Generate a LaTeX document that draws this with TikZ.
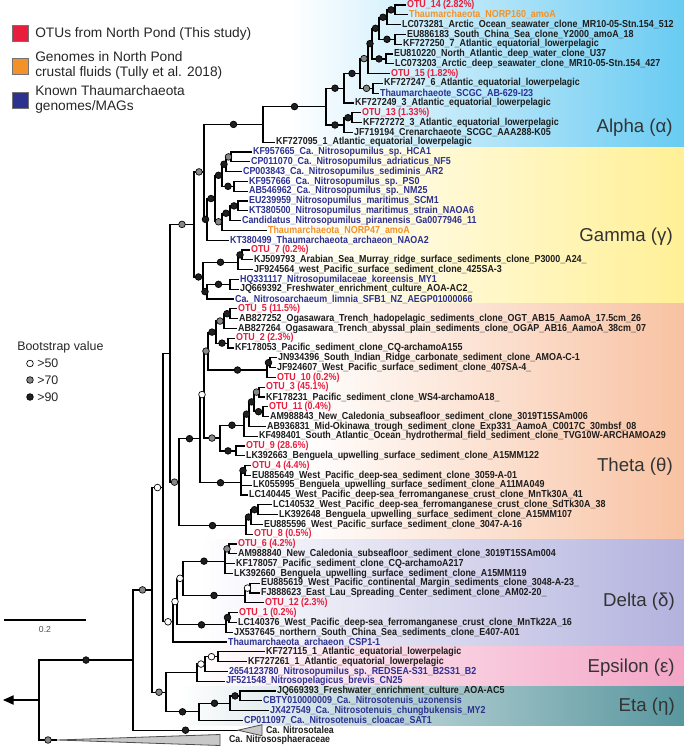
\documentclass[tikz,border=0pt]{standalone}
\usepackage{fontspec}
\setmainfont{Liberation Sans}
\newfontfamily\leaffont{Liberation Sans}[FakeStretch=0.88]
\usetikzlibrary{calc,arrows.meta}

\definecolor{otured}{RGB}{232,30,60}
\definecolor{norporange}{RGB}{243,146,40}
\definecolor{knownblue}{RGB}{45,50,145}
\definecolor{leafblack}{RGB}{30,30,30}
\definecolor{alphabg}{RGB}{105,203,242}
\definecolor{gammabg}{RGB}{255,240,150}
\definecolor{thetabg}{RGB}{248,194,162}
\definecolor{deltabg}{RGB}{178,178,222}
\definecolor{epsbg}{RGB}{243,165,197}
\definecolor{etabg}{RGB}{88,150,158}
\definecolor{dotgray}{RGB}{135,135,135}
\definecolor{clpsgray}{RGB}{200,200,200}

\tikzset{
  br/.style={line width=0.9pt},
  lf/.style={anchor=west, inner sep=0.6pt, text=leafblack, font=\leaffont\bfseries\fontsize{7.6}{8}\selectfont},
  lfotu/.style={lf, text=otured},
  lfnorp/.style={lf, text=norporange},
  lfknown/.style={lf, text=knownblue},
  lfbig/.style={lf, font=\leaffont\bfseries\fontsize{7.5}{8}\selectfont},
  bs/.style={circle, draw=black, line width=0.5pt, inner sep=0pt, minimum size=5pt},
  bshi/.style={bs, fill=black!88},
  bsmid/.style={bs, fill=dotgray},
  bslo/.style={bs, fill=white},
  clade/.style={anchor=east, inner sep=0pt, text=black!80, font=\fontsize{14}{16}\selectfont},
  legtxt/.style={anchor=west, align=left, inner sep=0pt, text=black!85, font=\fontsize{10.3}{10.6}\selectfont},
  sqr/.style={draw=black!55, line width=0.4pt, minimum size=12pt, inner sep=0pt},
  clps/.style={draw=black!70, line width=0.6pt, fill=clpsgray}
}

\begin{document}
\begin{tikzpicture}[x=0.75pt,y=0.75pt,yscale=-1,xscale=1]
\useasboundingbox (0,0) rectangle (684,746);

% clade backgrounds
\shade[left color=white, right color=alphabg] (290,0) rectangle (684,147.1);
\shade[left color=white, right color=gammabg] (280,147.1) rectangle (684,303.9);
\shade[left color=white, right color=thetabg] (300,303.9) rectangle (684,539.1);
\shade[left color=white, right color=deltabg] (200,539.1) rectangle (684,646.9);
\shade[left color=white, right color=epsbg] (190,646.9) rectangle (684,686.1);
\shade[left color=white, middle color=etabg!70, right color=etabg] (180,686.1) rectangle (684,725.5);

% legend
\node[sqr, fill=otured] (sq1) at (20,33.5) {};
\node[sqr, fill=norporange] (sq2) at (20,66.5) {};
\node[sqr, fill=knownblue] (sq3) at (20,100) {};
\node[legtxt] (lg1) at (35,34) {OTUs from North Pond (This study)};
\node[legtxt] (lg2) at (35,65.5) {Genomes in North Pond\\crustal fluids (Tully et al. 2018)};
\node[legtxt] (lg3) at (35,99.5) {Known Thaumarchaeota\\genomes/MAGs};

% leaves
\node[lfotu] (l1) at (406,5.0) {OTU\_14 (2.82\%)};
\node[lfnorp] (l2) at (408,14.8) {Thaumarchaeota\_NORP160\_amoA};
\node[lf] (l3) at (401,24.6) {LC073281\_Arctic\_Ocean\_seawater\_clone\_MR10-05-Stn.154\_512};
\node[lf] (l4) at (406,34.4) {EU886183\_South\_China\_Sea\_clone\_Y2000\_amoA\_18};
\node[lf] (l5) at (402,44.2) {KF727250\_7\_Atlantic\_equatorial\_lowerpelagic};
\node[lf] (l6) at (393,54.0) {EU810220\_North\_Atlantic\_deep\_water\_clone\_U37};
\node[lf] (l7) at (394,63.8) {LC073203\_Arctic\_deep\_seawater\_clone\_MR10-05-Stn.154\_427};
\node[lfotu] (l8) at (390,73.6) {OTU\_15 (1.82\%)};
\node[lf] (l9) at (383,83.4) {KF727247\_6\_Atlantic\_equatorial\_lowerpelagic};
\node[lfknown] (l10) at (379,93.2) {Thaumarchaeote\_SCGC\_AB-629-I23};
\node[lf] (l11) at (354,103.0) {KF727249\_3\_Atlantic\_equatorial\_lowerpelagic};
\node[lfotu] (l12) at (361,112.8) {OTU\_13 (1.33\%)};
\node[lf] (l13) at (362,122.6) {KF727272\_3\_Atlantic\_equatorial\_lowerpelagic};
\node[lf] (l14) at (353,132.4) {JF719194\_Crenarchaeote\_SCGC\_AAA288-K05};
\node[lf] (l15) at (275,142.2) {KF727095\_1\_Atlantic\_equatorial\_lowerpelagic};
\node[lfknown] (l16) at (252,152.0) {KF957665\_Ca.\_Nitrosopumilus\_sp.\_HCA1};
\node[lfknown] (l17) at (250,161.8) {CP011070\_Ca.\_Nitrosopumilus\_adriaticus\_NF5};
\node[lfknown] (l18) at (242,171.6) {CP003843\_Ca.\_Nitrosopumilus\_sediminis\_AR2};
\node[lfknown] (l19) at (248,181.4) {KF957666\_Ca.\_Nitrosopumilus\_sp.\_PS0};
\node[lfknown] (l20) at (248,191.2) {AB546962\_Ca.\_Nitrosopumilus\_sp.\_NM25};
\node[lfknown] (l21) at (248,201.0) {EU239959\_Nitrosopumilus\_maritimus\_SCM1};
\node[lfknown] (l22) at (248,210.8) {KT380500\_Nitrosopumilus\_maritimus\_strain\_NAOA6};
\node[lfknown] (l23) at (241,220.6) {Candidatus\_Nitrosopumilus\_piranensis\_Ga0077946\_11};
\node[lfnorp] (l24) at (267,230.4) {Thaumarchaeota\_NORP47\_amoA};
\node[lfknown] (l25) at (229,240.2) {KT380499\_Thaumarchaeota\_archaeon\_NAOA2};
\node[lfotu] (l26) at (250,250.0) {OTU\_7 (0.2\%)};
\node[lf] (l27) at (253,259.8) {KJ509793\_Arabian\_Sea\_Murray\_ridge\_surface\_sediments\_clone\_P3000\_A24\_};
\node[lf] (l28) at (253,269.6) {JF924564\_west\_Pacific\_surface\_sediment\_clone\_425SA-3};
\node[lfknown] (l29) at (239,279.4) {HQ331117\_Nitrosopumilaceae\_koreensis\_MY1};
\node[lf] (l30) at (239,289.2) {JQ669392\_Freshwater\_enrichment\_culture\_AOA-AC2\_};
\node[lfknown] (l31) at (234,299.0) {Ca.\_Nitrosoarchaeum\_limnia\_SFB1\_NZ\_AEGP01000066};
\node[lfotu] (l32) at (237,308.8) {OTU\_5 (11.5\%)};
\node[lf] (l33) at (238,318.6) {AB827252\_Ogasawara\_Trench\_hadopelagic\_sediments\_clone\_OGT\_AB15\_AamoA\_17.5cm\_26};
\node[lf] (l34) at (237,328.4) {AB827264\_Ogasawara\_Trench\_abyssal\_plain\_sediments\_clone\_OGAP\_AB16\_AamoA\_38cm\_07};
\node[lfotu] (l35) at (235,338.2) {OTU\_2 (2.3\%)};
\node[lf] (l36) at (234,348.0) {KF178053\_Pacific\_sediment\_clone\_CQ-archamoA155};
\node[lf] (l37) at (277,357.8) {JN934396\_South\_Indian\_Ridge\_carbonate\_sediment\_clone\_AMOA-C-1};
\node[lf] (l38) at (276,367.6) {JF924607\_West\_Pacific\_surface\_sediment\_clone\_407SA-4\_};
\node[lfotu] (l39) at (276,377.4) {OTU\_10 (0.2\%)};
\node[lfotu] (l40) at (265,387.2) {OTU\_3 (45.1\%)};
\node[lf] (l41) at (265,397.0) {KF178231\_Pacific\_sediment\_clone\_WS4-archamoA18\_};
\node[lfotu] (l42) at (268,406.8) {OTU\_11 (0.4\%)};
\node[lf] (l43) at (269,416.6) {AM988843\_New\_Caledonia\_subseafloor\_sediment\_clone\_3019T15SAm006};
\node[lf] (l44) at (266,426.4) {AB936831\_Mid-Okinawa\_trough\_sediment\_clone\_Exp331\_AamoA\_C0017C\_30mbsf\_08};
\node[lf] (l45) at (258,436.2) {KF498401\_South\_Atlantic\_Ocean\_hydrothermal\_field\_sediment\_clone\_TVG10W-ARCHAMOA29};
\node[lfotu] (l46) at (245,446.0) {OTU\_9 (28.6\%)};
\node[lf] (l47) at (245,455.8) {LK392663\_Benguela\_upwelling\_surface\_sediment\_clone\_A15MM122};
\node[lfotu] (l48) at (251,465.6) {OTU\_4 (4.4\%)};
\node[lf] (l49) at (251,475.4) {EU885649\_West\_Pacific\_deep-sea\_sediment\_clone\_3059-A-01};
\node[lf] (l50) at (252,485.2) {LK055995\_Benguela\_upwelling\_surface\_sediment\_clone\_A11MA049};
\node[lf] (l51) at (248,495.0) {LC140445\_West\_Pacific\_deep-sea\_ferromanganese\_crust\_clone\_MnTk30A\_41};
\node[lf] (l52) at (272,504.8) {LC140532\_West\_Pacific\_deep-sea\_ferromanganese\_crust\_clone\_SdTk30A\_38};
\node[lf] (l53) at (278,514.6) {LK392648\_Benguela\_upwelling\_surface\_sediment\_clone\_A15MM107};
\node[lf] (l54) at (263,524.4) {EU885596\_West\_Pacific\_surface\_sediment\_clone\_3047-A-16};
\node[lfotu] (l55) at (253,534.2) {OTU\_8 (0.5\%)};
\node[lfotu] (l56) at (237,544.0) {OTU\_6 (4.2\%)};
\node[lf] (l57) at (237,553.8) {AM988840\_New\_Caledonia\_subseafloor\_sediment\_clone\_3019T15SAm004};
\node[lf] (l58) at (235,563.6) {KF178057\_Pacific\_sediment\_clone\_CQ-archamoA217};
\node[lf] (l59) at (233,573.4) {LK392660\_Benguela\_upwelling\_surface\_sediment\_clone\_A15MM119};
\node[lf] (l60) at (260,583.2) {EU885619\_West\_Pacific\_continental\_Margin\_sediments\_clone\_3048-A-23\_};
\node[lf] (l61) at (260,593.0) {FJ888623\_East\_Lau\_Spreading\_Center\_sediment\_clone\_AM02-20\_};
\node[lfotu] (l62) at (264,602.8) {OTU\_12 (2.3\%)};
\node[lfotu] (l63) at (238,612.6) {OTU\_1 (0.2\%)};
\node[lf] (l64) at (237,622.4) {LC140376\_West\_Pacific\_deep-sea\_ferromanganese\_crust\_clone\_MnTk22A\_16};
\node[lf] (l65) at (233,632.2) {JX537645\_northern\_South\_China\_Sea\_sediments\_clone\_E407-A01};
\node[lfknown] (l66) at (227,642.0) {Thaumarchaeota\_archaeon\_CSP1-1};
\node[lf] (l67) at (265,651.8) {KF727115\_1\_Atlantic\_equatorial\_lowerpelagic};
\node[lf] (l68) at (247,661.6) {KF727261\_1\_Atlantic\_equatorial\_lowerpelagic};
\node[lfknown] (l69) at (228,671.4) {2654123780\_Nitrosopumilus\_sp.\_REDSEA-S31\_B2S31\_B2};
\node[lfknown] (l70) at (225,681.2) {JF521548\_Nitrosopelagicus\_brevis\_CN25};
\node[lf] (l71) at (276,691.0) {JQ669393\_Freshwater\_enrichment\_culture\_AOA-AC5};
\node[lfknown] (l72) at (262,700.8) {CBTY010000009\_Ca.\_Nitrosotenuis\_uzonensis};
\node[lfknown] (l73) at (269,710.6) {JX427549\_Ca.\_Nitrosotenuis\_chungbukensis\_MY2};
\node[lfknown] (l74) at (243,720.4) {CP011097\_Ca.\_Nitrosotenuis\_cloacae\_SAT1};
\node[lfbig] (l75) at (265,729.8) {Ca. Nitrosotalea};
\node[lfbig] (l76) at (228,740.4) {Ca. Nitrososphaeraceae};

% internal nodes
\coordinate (a1) at (395,9.9);
\coordinate (a2) at (387,17.25);
\coordinate (a3) at (395,39.3);
\coordinate (a4) at (379,28.3);
\coordinate (a5) at (386,58.9);
\coordinate (a6) at (372,43.6);
\coordinate (a7) at (368,58.6);
\coordinate (a8) at (373,88.3);
\coordinate (a9) at (360,73.45);
\coordinate (a10) at (344,88.2);
\coordinate (a11) at (352,117.7);
\coordinate (a12) at (344,125);
\coordinate (a13) at (326,106.6);
\coordinate (aR) at (263,124.4);
\coordinate (g1) at (231,156.9);
\coordinate (g2) at (226,164.25);
\coordinate (g3) at (234,186.3);
\coordinate (g4) at (222,175.3);
\coordinate (g5) at (238,205.9);
\coordinate (g6) at (230,213.25);
\coordinate (g7) at (222,221.8);
\coordinate (g8) at (215,198.55);
\coordinate (g9) at (207,219.4);
\coordinate (z) at (204,171.9);
\coordinate (g10) at (242,254.9);
\coordinate (g11) at (238,262.25);
\coordinate (g12) at (230,284.3);
\coordinate (g13) at (207,291.65);
\coordinate (m) at (203,276.95);
\coordinate (w) at (194,224.4);
\coordinate (t1) at (230,313.7);
\coordinate (t2) at (224,321.05);
\coordinate (t3) at (228,343.1);
\coordinate (t4) at (216,332.1);
\coordinate (t5) at (270,362.7);
\coordinate (t6) at (267,370.05);
\coordinate (t7) at (208,351.1);
\coordinate (t8) at (259,392.1);
\coordinate (t9) at (263,411.7);
\coordinate (t10) at (254,401.9);
\coordinate (t11) at (249,414.15);
\coordinate (t12) at (244,425.2);
\coordinate (t13) at (236,450.9);
\coordinate (t14) at (220,438.05);
\coordinate (t15) at (204,394.6);
\coordinate (t16) at (245,470.5);
\coordinate (t17) at (241,482.75);
\coordinate (t18) at (200,438.7);
\coordinate (t19) at (258,509.7);
\coordinate (t20) at (251,517.05);
\coordinate (t21) at (246,525.6);
\coordinate (t22) at (179,482.15);
\coordinate (gt) at (170,353.3);
\coordinate (d1) at (229,548.9);
\coordinate (d2) at (225,561.15);
\coordinate (d3) at (250,588.1);
\coordinate (d4) at (245,595.45);
\coordinate (d5) at (183,578.3);
\coordinate (d6) at (229,617.5);
\coordinate (d7) at (226,624.85);
\coordinate (d8) at (177,601.6);
\coordinate (dR) at (173,621.8);
\coordinate (up) at (163,487.55);
\coordinate (e1) at (218,656.7);
\coordinate (e2) at (205,664.05);
\coordinate (e3) at (197,672.6);
\coordinate (h1) at (240,695.9);
\coordinate (h2) at (230,703.25);
\coordinate (h3) at (199,711.8);
\coordinate (ee) at (166,692.2);
\coordinate (n2) at (152,589.9);
\coordinate (n1) at (133,660.05);
\coordinate (r0) at (39,700);
\coordinate (rtip) at (3,700);
\coordinate (talea) at (238,730.2);
\coordinate (ssph) at (57,740);

% branches
\foreach \p/\c in {a1/l1,a1/l2,a2/a1,a2/l3,a3/l4,a3/l5,a4/a2,a4/a3,a5/l6,a5/l7,a6/a4,a6/a5,a7/a6,a7/l8,
  a8/l9,a8/l10,a9/a7,a9/a8,a10/a9,a10/l11,a11/l12,a11/l13,a12/a11,a12/l14,a13/a10,a13/a12,aR/a13,aR/l15,
  g1/l16,g1/l17,g2/g1,g2/l18,g3/l19,g3/l20,g4/g2,g4/g3,g5/l21,g5/l22,g6/g5,g6/l23,g7/g6,g7/l24,g8/g4,g8/g7,
  g9/g8,g9/l25,z/aR,z/g9,g10/l26,g10/l27,g11/g10,g11/l28,g12/l29,g12/l30,g13/g12,g13/l31,m/g11,m/g13,w/z,w/m,
  t1/l32,t1/l33,t2/t1,t2/l34,t3/l35,t3/l36,t4/t2,t4/t3,t5/l37,t5/l38,t6/t5,t6/l39,t7/t4,t7/t6,t8/l40,t8/l41,
  t9/l42,t9/l43,t10/t8,t10/t9,t11/t10,t11/l44,t12/t11,t12/l45,t13/l46,t13/l47,t14/t12,t14/t13,t15/t7,t15/t14,
  t16/l48,t16/l49,t17/t16,t17/l50,t17/l51,t18/t15,t18/t17,t19/l52,t19/l53,t20/t19,t20/l54,t21/t20,t21/l55,
  t22/t18,t22/t21,gt/w,gt/t22,
  d1/l56,d1/l57,d2/d1,d2/l58,d2/l59,d3/l60,d3/l61,d4/d3,d4/l62,d5/d2,d5/d4,d6/l63,d6/l64,d7/d6,d7/l65,
  d8/d5,d8/d7,dR/d8,dR/l66,up/gt,up/dR,
  e1/l67,e1/l68,e2/e1,e2/l69,e3/e2,e3/l70,h1/l71,h1/l72,h2/h1,h2/l73,h3/h2,h3/l74,ee/e3,ee/h3,
  n2/up,n2/ee,n1/n2,n1/talea,r0/n1,r0/ssph}
  \draw[br] (\p) |- (\c);

% root arrow
\draw[br,-{Triangle[length=8pt,width=7pt]}] (r0) -- (rtip);

% collapsed clades
\draw[clps] (talea) -- (262,724.7) -- (262,735.7) -- cycle;
\draw[clps] (ssph) -- (220,734.5) -- (220,745.5) -- cycle;

% bootstrap markers
\foreach \s/\p/\c in {bshi/a2/a1,bshi/a4/a2,bshi/a4/a3,bshi/a6/a4,bshi/a6/a5,bshi/a7/a6,bsmid/a9/a7,bsmid/a9/a8,
  bshi/a10/a9,bshi/a13/a10,bshi/a12/a11,bshi/a13/a12,bshi/aR/a13,bshi/z/aR,
  bsmid/g2/g1,bshi/g4/g2,bshi/g4/g3,bshi/g8/g4,bshi/g6/g5,bshi/g7/g6,bsmid/g8/g7,bshi/g9/g8,bshi/z/g9,
  bsmid/w/z,bshi/g11/g10,bshi/m/g11,bshi/g13/g12,bshi/m/g13,bshi/w/m,bsmid/gt/w,
  bshi/t2/t1,bsmid/t4/t2,bshi/t4/t3,bshi/t7/t4,bshi/t6/t5,bshi/t7/t6,bsmid/t15/t7,bsmid/t10/t8,bshi/t10/t9,
  bshi/t11/t10,bshi/t12/t11,bshi/t14/t12,bshi/t14/t13,bsmid/t15/t14,bslo/t18/t15,bshi/t17/t16,bshi/t18/t17,
  bshi/t22/t18,bshi/t20/t19,bshi/t21/t20,bshi/t22/t21,bsmid/gt/t22,
  bsmid/d2/d1,bshi/d5/d2,bslo/d4/d3,bshi/d5/d4,bslo/d8/d5,bshi/d7/d6,bshi/d8/d7,bslo/dR/d8,bslo/up/dR,bslo/n2/up,
  bslo/e2/e1,bslo/e3/e2,bshi/h2/h1,bshi/h3/h2,bshi/ee/h3,bsmid/n2/ee,bsmid/n1/n2,bshi/n1/talea,bshi/r0/n1,bsmid/r0/ssph}
  \node[\s] (bs-\c) at ($(\p|-\c)!.5!(\c)$) {};

% clade names
\node[clade] (alpha) at (673,128) {Alpha (α)};
\node[clade] (gamma) at (673,237) {Gamma (γ)};
\node[clade] (theta) at (673,467) {Theta (θ)};
\node[clade] (delta) at (675,602) {Delta (δ)};
\node[clade] (epsilon) at (675,668) {Epsilon (ε)};
\node[clade] (eta) at (675,707) {Eta (η)};

% bootstrap key
\node[anchor=west, inner sep=0pt, text=black!85, font=\fontsize{9.3}{10}\selectfont] (bskey) at (17,347) {Bootstrap value};
\node[bslo] (k50) at (30,363.5) {};
\node[bsmid] (k70) at (30,380) {};
\node[bshi] (k90) at (30,397) {};
\node[anchor=west, inner sep=0pt, text=black!85, font=\fontsize{9.3}{10}\selectfont] (k50t) at (37,363.5) {>50};
\node[anchor=west, inner sep=0pt, text=black!85, font=\fontsize{9.3}{10}\selectfont] (k70t) at (37,380) {>70};
\node[anchor=west, inner sep=0pt, text=black!85, font=\fontsize{9.3}{10}\selectfont] (k90t) at (37,397) {>90};

% scale bar
\coordinate (sb1) at (4,620);
\coordinate (sb2) at (86,620);
\draw[br] (sb1) -- (sb2);
\node[text=black!70, font=\fontsize{6.5}{7}\selectfont] (sblab) at (45,630) {0.2};

\end{tikzpicture}
\end{document}
